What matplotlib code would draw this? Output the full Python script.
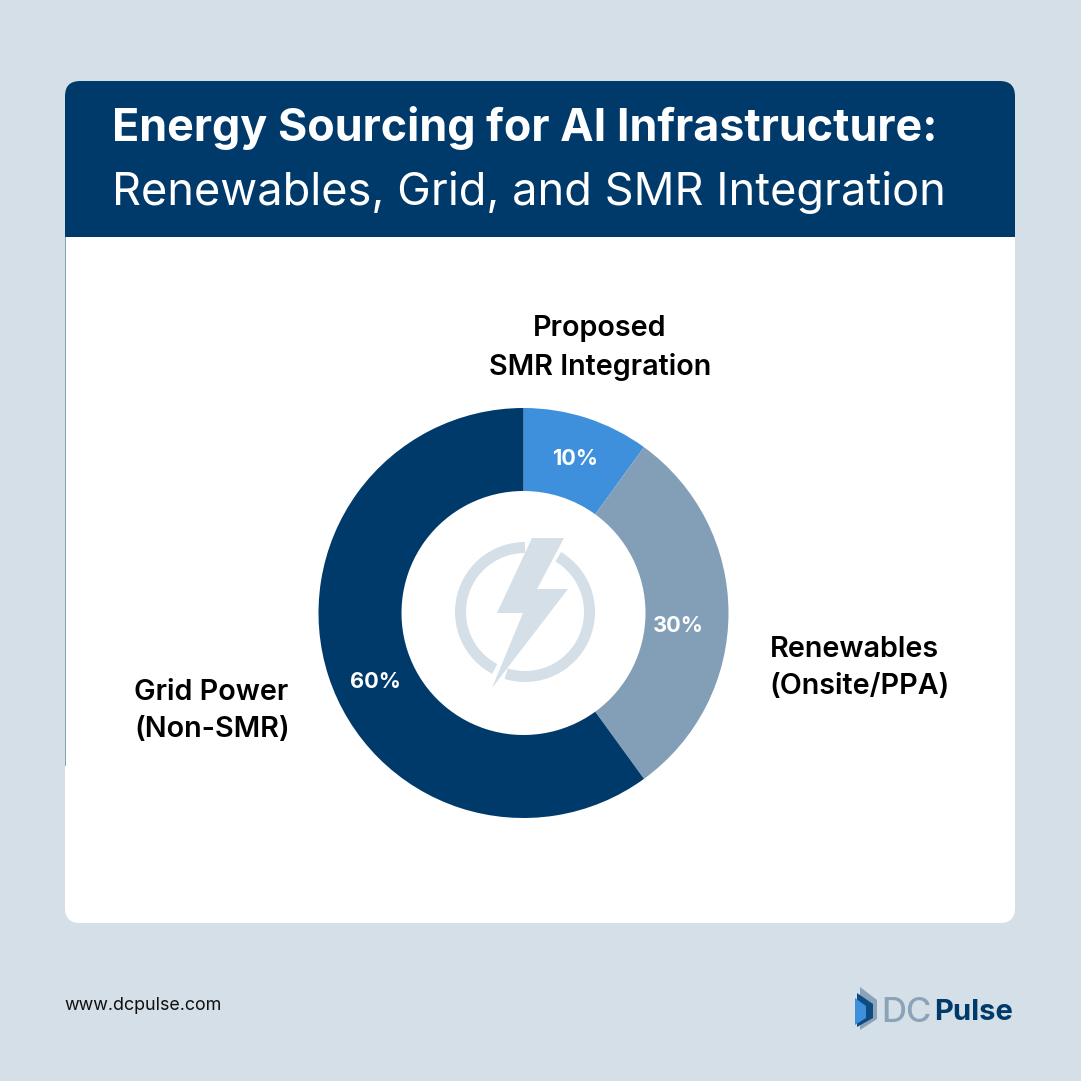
import matplotlib
matplotlib.use("Agg")
import matplotlib.pyplot as plt
from matplotlib.patches import FancyBboxPatch, Rectangle, Polygon, Wedge

plt.rcParams["font.family"] = ["Inter", "DejaVu Sans"]

categories = ["Proposed\nSMR Integration", "Renewables\n(Onsite/PPA)", "Grid Power\n(Non-SMR)"]
shares = [10, 30, 60]
colors = ["#3e90dc", "#839fb7", "#003a6b"]

BG = "#d5dfe7"
NAVY = "#003a6b"
W = 1081


def Y(y):
    # picture pixels run downward, the axes run upward
    return W - y


fig = plt.figure(figsize=(10.81, 10.81), dpi=100, facecolor=BG)
ax = fig.add_axes([0, 0, 1, 1])

# card with rounded corners, header clipped to the same outline
card = FancyBboxPatch((65, Y(923)), 950, 842, boxstyle="round,pad=0,rounding_size=15",
                      fc="white", ec="none", zorder=0)
ax.add_patch(card)
head = Rectangle((65, Y(237)), 950, 156, fc=NAVY, ec="none", zorder=0.5)
ax.add_patch(head)
head.set_clip_path(card)
ax.plot([65.3, 65.3], [Y(237), Y(765)], color="#6f8ea8", lw=0.6, zorder=0.6)

ax.text(111.5, Y(128), "Energy Sourcing for AI Infrastructure:", color="white", fontsize=32.3,
        fontweight="bold", va="center", ha="left")
ax.text(111.5, Y(192), "Renewables, Grid, and SMR Integration", color="white", fontsize=32.5,
        fontweight="normal", va="center", ha="left")

# donut
ax.pie(shares, colors=colors, startangle=90, counterclock=False, radius=205,
       center=(523.5, Y(613)), wedgeprops={"width": 83}, frame=True)
ax.set_xlim(0, W)
ax.set_ylim(0, W)
ax.axis("off")

pct_pos = [(575, 459), (678, 626), (375, 682)]
for s, (x, y) in zip(shares, pct_pos):
    ax.text(x, Y(y), f"{s}%", color="white", fontsize=15.7, fontweight="bold",
            ha="center", va="center", zorder=5)

ax.text(600, Y(348), categories[0], fontsize=20.7, fontweight="semibold", ha="center", va="center",
        color="black", linespacing=1.46)
ax.text(769.5, Y(668), categories[1], fontsize=20.7, fontweight="semibold", ha="left", va="center",
        color="black", linespacing=1.46)
ax.text(134.5, Y(711), categories[2], fontsize=20.7, fontweight="semibold", ha="left", va="center",
        color="black", linespacing=1.46)

# centre icon
ax.add_patch(Wedge((525, Y(612)), 70, 90, 242, width=11, fc=BG, ec="none", zorder=6))
ax.add_patch(Wedge((525, Y(612)), 70, 253, 419, width=11, fc=BG, ec="none", zorder=6))
bolt = [(532, 538), (564, 538), (537, 589), (568, 589), (492, 688), (523, 613), (497, 613)]
ax.add_patch(Polygon([(x, Y(y)) for x, y in bolt], fc=BG, ec="none", zorder=7))

# footer
ax.text(64.5, Y(1006), "www.dcpulse.com", fontsize=12.9, color="#111111", ha="left", va="center")
logo = [
    ([(860, 987), (877, 1000), (877, 1019), (860, 1030)], "#8aa3b8"),
    ([(857, 993), (873, 1004), (873, 1018), (857, 1027)], "#0f4a80"),
    ([(855, 998), (866, 1006), (866, 1018), (855, 1025)], "#3e90dc"),
]
for pts, c in logo:
    ax.add_patch(Polygon([(x, Y(y)) for x, y in pts], fc=c, ec="none"))
ax.text(881, Y(1013), "DC", fontsize=25, fontweight="medium", color="#8aa3b8", ha="left", va="center")
ax.text(934, Y(1013), "Pulse", fontsize=21, fontweight="bold", color=NAVY, ha="left", va="center")

fig.savefig("out.png", dpi=100, facecolor=BG)
